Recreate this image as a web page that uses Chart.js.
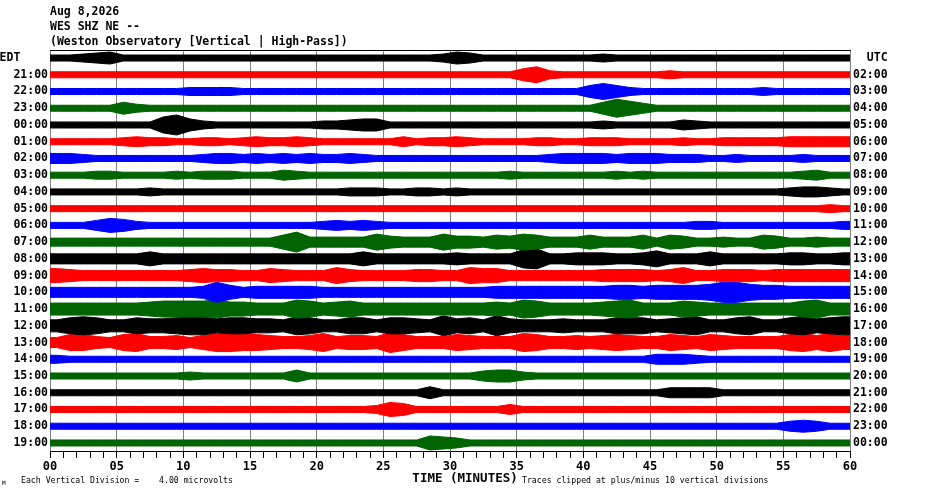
<!DOCTYPE html>
<html>
<head>
<meta charset="utf-8">
<script src="https://cdn.jsdelivr.net/npm/chart.js@4.4.1/dist/chart.umd.min.js"></script>
<style>
  html, body { margin: 0; padding: 0; background: #fff; }
</style>
</head>
<body>
<canvas id="heli" width="930" height="494"></canvas>
<script>
// hour labels, top row first
const edtLabels = ["EDT    ", "21:00", "22:00", "23:00", "00:00", "01:00", "02:00", "03:00",
  "04:00", "05:00", "06:00", "07:00", "08:00", "09:00", "10:00", "11:00", "12:00", "13:00",
  "14:00", "15:00", "16:00", "17:00", "18:00", "19:00"];
const utcLabels = ["  UTC", "02:00", "03:00", "04:00", "05:00", "06:00", "07:00", "08:00",
  "09:00", "10:00", "11:00", "12:00", "13:00", "14:00", "15:00", "16:00", "17:00", "18:00",
  "19:00", "20:00", "21:00", "22:00", "23:00", "00:00"];
const minuteTicks = [0, 5, 10, 15, 20, 25, 30, 35, 40, 45, 50, 55, 60];
const traceColors = ["#000000", "#ff0000", "#0000ff", "#006400"];

// trace envelope (half height) per minute
const h20 = [3,3,4,5,6,3,3,3,3,3,3,3,3,3,3, 3,3,3,3,3,3,3,3,3,3,3,3,3,3,4, 6,5,3,3,3,3,3,3,3,3,3,4,3,3,3, 3,3,3,3,3,3,3,3,3,3,3,3,3,3,3];
const h21 = [3,3,3,3,3,3,3,3,3,3,3,3,3,3,3, 3,3,3,3,3,3,3,3,3,3,3,3,3,3,3, 3,3,3,3,3,6,8,4,3,3,3,3,3,3,3, 3,4,3,3,3,3,3,3,3,3,3,3,3,3,3];
const h22 = [3,3,3,3,3,3,3,3,3,3,4,4,4,4,3, 3,3,3,3,3,3,3,3,3,3,3,3,3,3,3, 3,3,3,3,3,3,3,3,3,3,6,8,6,4,3, 3,3,3,3,3,3,3,3,4,3,3,3,3,3,3];
const h23 = [3,3,3,3,3,6,4,3,3,3,3,3,3,3,3, 3,3,3,3,3,3,3,3,3,3,3,3,3,3,3, 3,3,3,3,3,3,3,3,3,3,3,6,9,7,5, 3,3,3,3,3,3,3,3,3,3,3,3,3,3,3];
const h00 = [3,3,3,3,3,3,3,3,8,10,6,4,3,3,3, 3,3,3,3,3,4,4,5,6,6,3,3,3,3,3, 3,3,3,3,3,3,3,3,3,3,3,4,3,3,3, 3,3,5,4,3,3,3,3,3,3,3,3,3,3,3];
const h01 = [3,3,3,3,3,4,5,4,4,3,3,4,4,3,4, 5,4,4,5,4,3,3,3,3,3,3,5,3,4,4, 5,4,3,3,3,3,4,4,3,3,4,4,4,3,3, 3,3,4,3,3,4,4,4,4,4,5,5,5,5,5];
const h02 = [5,5,4,3,3,3,3,3,3,3,3,4,5,5,4, 5,4,5,4,5,4,4,5,4,3,3,3,3,3,3, 3,3,3,3,3,3,3,4,5,5,5,5,4,5,5, 5,4,4,4,3,3,4,3,3,3,3,4,3,3,3];
const h03 = [3,3,3,4,4,3,3,3,3,4,3,4,4,4,3, 3,3,5,4,3,3,3,3,3,3,3,3,3,3,3, 3,3,3,3,4,3,3,3,3,3,3,3,4,3,4, 3,3,3,3,3,3,3,3,3,3,3,4,5,3,3];
const h04 = [3,3,3,3,3,3,3,4,3,3,3,3,3,3,3, 3,3,3,3,3,3,3,4,4,4,3,3,4,4,3, 4,3,3,3,3,3,3,3,3,3,3,3,3,3,3, 3,3,3,3,3,3,3,3,3,3,4,5,5,4,3];
const h05 = [3,3,3,3,3,3,3,3,3,3,3,3,3,3,3, 3,3,3,3,3,3,3,3,3,3,3,3,3,3,3, 3,3,3,3,3,3,3,3,3,3,3,3,3,3,3, 3,3,3,3,3,3,3,3,3,3,3,3,3,4,3];
const h06 = [3,3,3,5,7,6,4,3,3,3,3,3,3,3,3, 3,3,3,3,3,4,5,4,5,4,3,3,3,3,3, 3,3,3,3,3,3,3,3,3,3,3,3,3,3,3, 3,3,3,4,4,3,3,3,3,3,3,3,3,3,4];
const h07 = [4,4,4,4,4,4,4,4,4,4,4,4,4,4,4, 4,4,7,10,5,5,5,5,5,8,6,5,5,5,8, 6,6,5,7,6,8,7,5,5,5,7,5,5,5,7, 4,7,6,4,4,5,4,4,7,6,4,4,5,4,4];
const h08 = [5,5,5,5,5,5,5,7,5,5,5,5,5,5,5, 5,5,5,5,5,5,5,5,7,5,5,5,5,5,5, 6,5,5,5,5,9,10,5,5,6,6,6,5,5,6, 8,5,5,5,7,5,5,5,5,5,6,6,5,5,6];
const h09 = [7,6,5,5,5,5,5,5,5,5,6,7,6,6,5, 5,7,6,5,5,5,8,6,5,5,5,5,6,6,5, 5,8,7,7,5,5,5,5,5,5,5,6,6,6,6, 5,6,8,5,5,6,6,6,5,6,6,6,6,6,6];
const h10 = [5,5,5,5,5,5,5,5,5,5,5,6,10,7,5, 6,6,6,6,6,5,5,5,5,5,5,5,5,5,5, 5,5,5,6,6,6,6,6,6,6,6,6,7,7,6, 7,7,7,7,8,10,10,8,7,7,6,6,6,6,6];
const h11 = [6,6,6,6,6,6,6,7,8,8,8,8,9,7,7, 6,6,6,9,8,6,7,8,6,6,6,6,6,6,6, 6,6,6,7,6,9,8,6,6,6,6,7,8,9,6, 6,6,8,7,6,6,6,6,6,6,6,8,9,6,6];
const h12 = [6,8,9,8,6,6,8,7,7,8,9,9,7,8,8, 7,7,6,9,8,6,6,8,8,6,8,8,7,6,10, 7,8,6,10,7,6,6,6,7,6,6,6,8,8,8, 6,7,8,9,6,6,8,9,6,6,8,9,7,8,9];
const h13 = [5,8,8,6,5,8,9,6,6,7,5,7,9,9,8, 8,7,6,6,7,9,6,7,7,6,10,8,6,6,6, 8,7,6,6,6,9,8,6,6,7,6,7,8,7,6, 6,8,7,6,8,7,6,6,6,6,8,9,7,9,7];
const h14 = [4,3,3,3,3,3,3,3,3,3,3,3,3,3,3, 3,3,3,3,3,3,3,3,3,3,3,3,3,3,3, 3,3,3,3,3,3,3,3,3,3,3,3,3,3,3, 5,5,5,4,3,3,3,3,3,3,3,3,3,3,3];
const h15 = [3,3,3,3,3,3,3,3,3,3,4,3,3,3,3, 3,3,3,6,3,3,3,3,3,3,3,3,3,3,3, 3,3,5,6,6,4,3,3,3,3,3,3,3,3,3, 3,3,3,3,3,3,3,3,3,3,3,3,3,3,3];
const h16 = [3,3,3,3,3,3,3,3,3,3,3,3,3,3,3, 3,3,3,3,3,3,3,3,3,3,3,3,3,6,3, 3,3,3,3,3,3,3,3,3,3,3,3,3,3,3, 3,5,5,5,5,3,3,3,3,3,3,3,3,3,3];
const h17 = [3,3,3,3,3,3,3,3,3,3,3,3,3,3,3, 3,3,3,3,3,3,3,3,3,4,7,6,3,3,3, 3,3,3,3,5,3,3,3,3,3,3,3,3,3,3, 3,3,3,3,3,3,3,3,3,3,3,3,3,3,3];
const h18 = [3,3,3,3,3,3,3,3,3,3,3,3,3,3,3, 3,3,3,3,3,3,3,3,3,3,3,3,3,3,3, 3,3,3,3,3,3,3,3,3,3,3,3,3,3,3, 3,3,3,3,3,3,3,3,3,3,5,6,5,3,3];
const h19 = [3,3,3,3,3,3,3,3,3,3,3,3,3,3,3, 3,3,3,3,3,3,3,3,3,3,3,3,3,7,6, 5,3,3,3,3,3,3,3,3,3,3,3,3,3,3, 3,3,3,3,3,3,3,3,3,3,3,3,3,3,3];

const traces = [h20, h21, h22, h23, h00, h01, h02, h03, h04, h05, h06, h07,
  h08, h09, h10, h11, h12, h13, h14, h15, h16, h17, h18, h19];

const AMP_PER_ROW = 16.7; // envelope units per row spacing
const NROWS = traces.length;

function band(amp, base, sign) {
  let pts = [{ x: 0, y: base + sign * amp[0] / AMP_PER_ROW }];
  amp.forEach((a, m) => pts.push({ x: m + 0.5, y: base + sign * a / AMP_PER_ROW }));
  pts.push({ x: 60, y: base + sign * amp[amp.length - 1] / AMP_PER_ROW });
  return pts;
}

const datasets = [];
traces.forEach((amp, i) => {
  const base = NROWS - 1 - i;
  const col = traceColors[i % 4];
  datasets.push({ data: band(amp, base, 1), borderColor: col, backgroundColor: col,
    borderWidth: 1, pointRadius: 0, fill: false, tension: 0 });
  datasets.push({ data: band(amp, base, -1), borderColor: col, backgroundColor: col,
    borderWidth: 1, pointRadius: 0, fill: "-1", tension: 0 });
});

const monoBold = { family: "'DejaVu Sans Mono', monospace", size: 11.5, weight: "bold" };

const heliText = {
  id: "heliText",
  afterDraw(chart) {
    const ctx = chart.ctx;
    ctx.save();
    ctx.fillStyle = "#000";
    ctx.textBaseline = "middle";
    ctx.textAlign = "left";
    ctx.font = "bold 11.5px 'DejaVu Sans Mono', monospace";
    ctx.fillText("Aug 8,2026", 50, 12);
    ctx.fillText("WES SHZ NE --", 50, 27);
    ctx.fillText("(Weston Observatory [Vertical | High-Pass])", 50, 42);
    ctx.font = "8.2px 'DejaVu Sans Mono', monospace";
    ctx.fillText("Each Vertical Division =    4.00 microvolts", 21, 481);
    ctx.fillText("Traces clipped at plus/minus 10 vertical divisions", 522, 481);
    ctx.font = "6px 'DejaVu Sans Mono', monospace";
    ctx.fillText("M", 2, 483);
    ctx.restore();
  }
};

new Chart(document.getElementById("heli"), {
  type: "line",
  data: { datasets },
  plugins: [heliText],
  options: {
    responsive: false,
    devicePixelRatio: 1,
    animation: false,
    layout: { padding: { top: 50, left: 0, right: 0, bottom: 0 } },
    plugins: { legend: { display: false }, tooltip: { enabled: false }, title: { display: false } },
    scales: {
      x: {
        type: "linear", position: "bottom", min: 0, max: 60, z: 1,
        afterBuildTicks: s => { s.ticks = Array.from({ length: 61 }, (_, m) => ({ value: m })); },
        ticks: {
          autoSkip: false, maxRotation: 0, padding: 2, color: "#000",
          font: { family: "'DejaVu Sans Mono', monospace", size: 12, weight: "bold" },
          callback: v => minuteTicks.includes(v) ? String(v).padStart(2, "0") : ""
        },
        grid: {
          color: c => (c.tick && minuteTicks.includes(c.tick.value)) ? "#808080" : "rgba(0,0,0,0)",
          tickColor: "#000", tickLength: 7, lineWidth: 1
        },
        border: { display: true, color: "#000", width: 1 },
        title: {
          display: true, text: "    TIME (MINUTES)", color: "#000",
          font: { family: "'DejaVu Sans Mono', monospace", size: 12.5, weight: "bold" },
          padding: { top: 0, bottom: 8 }
        },
        afterFit: s => { s.height = 43; }
      },
      x2: {
        type: "linear", position: "top", min: 0, max: 60,
        ticks: { display: false },
        grid: { display: false, drawTicks: false },
        border: { display: true, color: "#000", width: 1 },
        afterFit: s => { s.height = 0; }
      },
      y: {
        type: "linear", position: "left", min: -0.48, max: NROWS - 0.52,
        afterBuildTicks: s => { s.ticks = edtLabels.map((_, i) => ({ value: NROWS - 1 - i })); },
        ticks: {
          autoSkip: false, padding: 2, color: "#000", font: monoBold,
          callback: v => edtLabels[NROWS - 1 - v]
        },
        grid: { display: false, drawTicks: false },
        border: { display: false },
        afterFit: s => { s.width = 50; }
      },
      y2: {
        type: "linear", position: "right", min: -0.48, max: NROWS - 0.52,
        afterBuildTicks: s => { s.ticks = utcLabels.map((_, i) => ({ value: NROWS - 1 - i })); },
        ticks: {
          autoSkip: false, padding: 3, color: "#000", font: monoBold,
          callback: v => utcLabels[NROWS - 1 - v]
        },
        grid: { display: false, drawTicks: false },
        border: { display: false },
        afterFit: s => { s.width = 80; }
      }
    }
  }
});
</script>
</body>
</html>
